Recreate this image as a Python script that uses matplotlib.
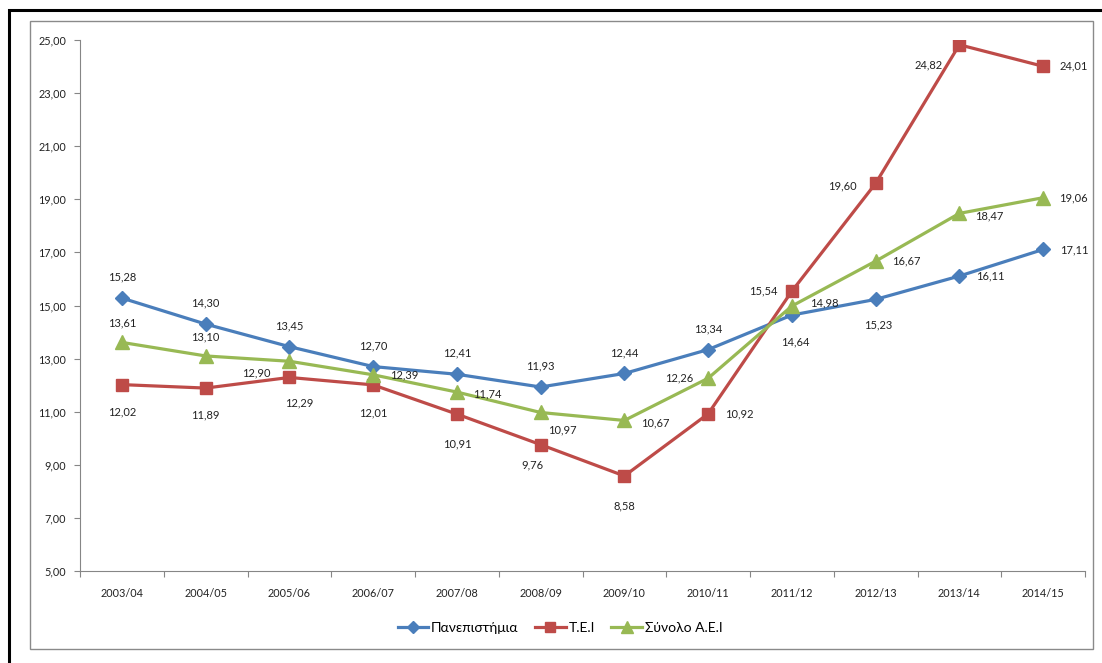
import numpy as np
import matplotlib.pyplot as plt
from matplotlib.patches import Rectangle

# Δεδομένα
etos = ['2003/04', '2004/05', '2005/06', '2006/07', '2007/08', '2008/09',
        '2009/10', '2010/11', '2011/12', '2012/13', '2013/14', '2014/15']
panepistimia = [15.28, 14.30, 13.45, 12.70, 12.41, 11.93, 12.44, 13.34, 14.64, 15.23, 16.11, 17.11]
tei = [12.02, 11.89, 12.29, 12.01, 10.91, 9.76, 8.58, 10.92, 15.54, 19.60, 24.82, 24.01]
synolo = [13.61, 13.10, 12.90, 12.39, 11.74, 10.97, 10.67, 12.26, 14.98, 16.67, 18.47, 19.06]

# θέσεις ετικετών (pixels: dx, dy)
off_pan = [(0, 21)] * 8 + [(3, -27), (3, -26), (31, 0), (31, 0)]
off_tei = [(0, -27), (0, -27), (10, -25), (0, -28), (0, -30), (-8, -20), (0, -30),
           (31, 0), (-29, 0), (-33, -3), (-31, -20), (31, 0)]
off_syn = [(0, 19), (0, 19), (-33, -12), (31, 0), (30, -2), (22, -17), (31, -2),
           (-29, 0), (32, 3), (31, 0), (30, -3), (30, 0)]

plt.rcParams['font.family'] = ['Lato', 'Noto Sans', 'DejaVu Sans']

fig = plt.figure(figsize=(11.02, 6.63), dpi=100)
W, H = 1102, 663

# πλαίσια
fig.patches.append(Rectangle((9 / W, -0.1), 1.2, (H - 10) / H + 0.1, transform=fig.transFigure,
                             fill=False, edgecolor='black', linewidth=2.2))
fig.patches.append(Rectangle((30 / W, (H - 649) / H), 1063 / W, 628 / H, transform=fig.transFigure,
                             fill=False, edgecolor='#8a8a8a', linewidth=1))

ax = fig.add_axes([80 / W, (H - 571) / H, 1005 / W, 531 / H])
x = np.arange(len(etos))

seires = [
    (panepistimia, 'Πανεπιστήμια', '#4a7ebb', 'D', 7.5, off_pan),
    (tei, 'Τ.Ε.Ι', '#be4b48', 's', 8.5, off_tei),
    (synolo, 'Σύνολο Α.Ε.Ι', '#98b954', '^', 9.5, off_syn),
]
for vals, lab, col, mk, ms, offs in seires:
    ax.plot(x, vals, color=col, marker=mk, markersize=ms, linewidth=2.3, label=lab)
    for xi, v, (dx, dy) in zip(x, vals, offs):
        ax.annotate(f'{v:.2f}'.replace('.', ','), (xi, v), xytext=(dx, dy),
                    textcoords='offset pixels', ha='center', va='center',
                    fontsize=8, color='#222222')

ax.set_xlim(-0.5, len(etos) - 0.5)
ax.set_ylim(5, 25)
ax.set_yticks(np.arange(5, 26, 2))
ax.set_yticklabels([f'{v:.2f}'.replace('.', ',') for v in np.arange(5, 26, 2)])
ax.set_xticks(np.arange(-0.5, len(etos), 1))
ax.set_xticklabels([])
ax.set_xticks(x, minor=True)
ax.set_xticklabels(etos, minor=True)
ax.tick_params(axis='x', which='major', length=4, color='#868686', direction='out')
ax.tick_params(axis='x', which='minor', length=0, pad=12, labelsize=7.8, labelcolor='#222222')
ax.tick_params(axis='y', length=4, color='#868686', labelsize=7.8, labelcolor='#222222', pad=6)
for s in ['top', 'right']:
    ax.spines[s].set_visible(False)
for s in ['left', 'bottom']:
    ax.spines[s].set_color('#868686')

ax.legend(loc='center', bbox_to_anchor=(560 / W, (H - 628) / H), bbox_transform=fig.transFigure,
          ncol=3, frameon=False, fontsize=10, handlelength=2.2, columnspacing=1.2,
          handletextpad=0.2, markerscale=0.85)

plt.savefig('out.png', dpi=100)
